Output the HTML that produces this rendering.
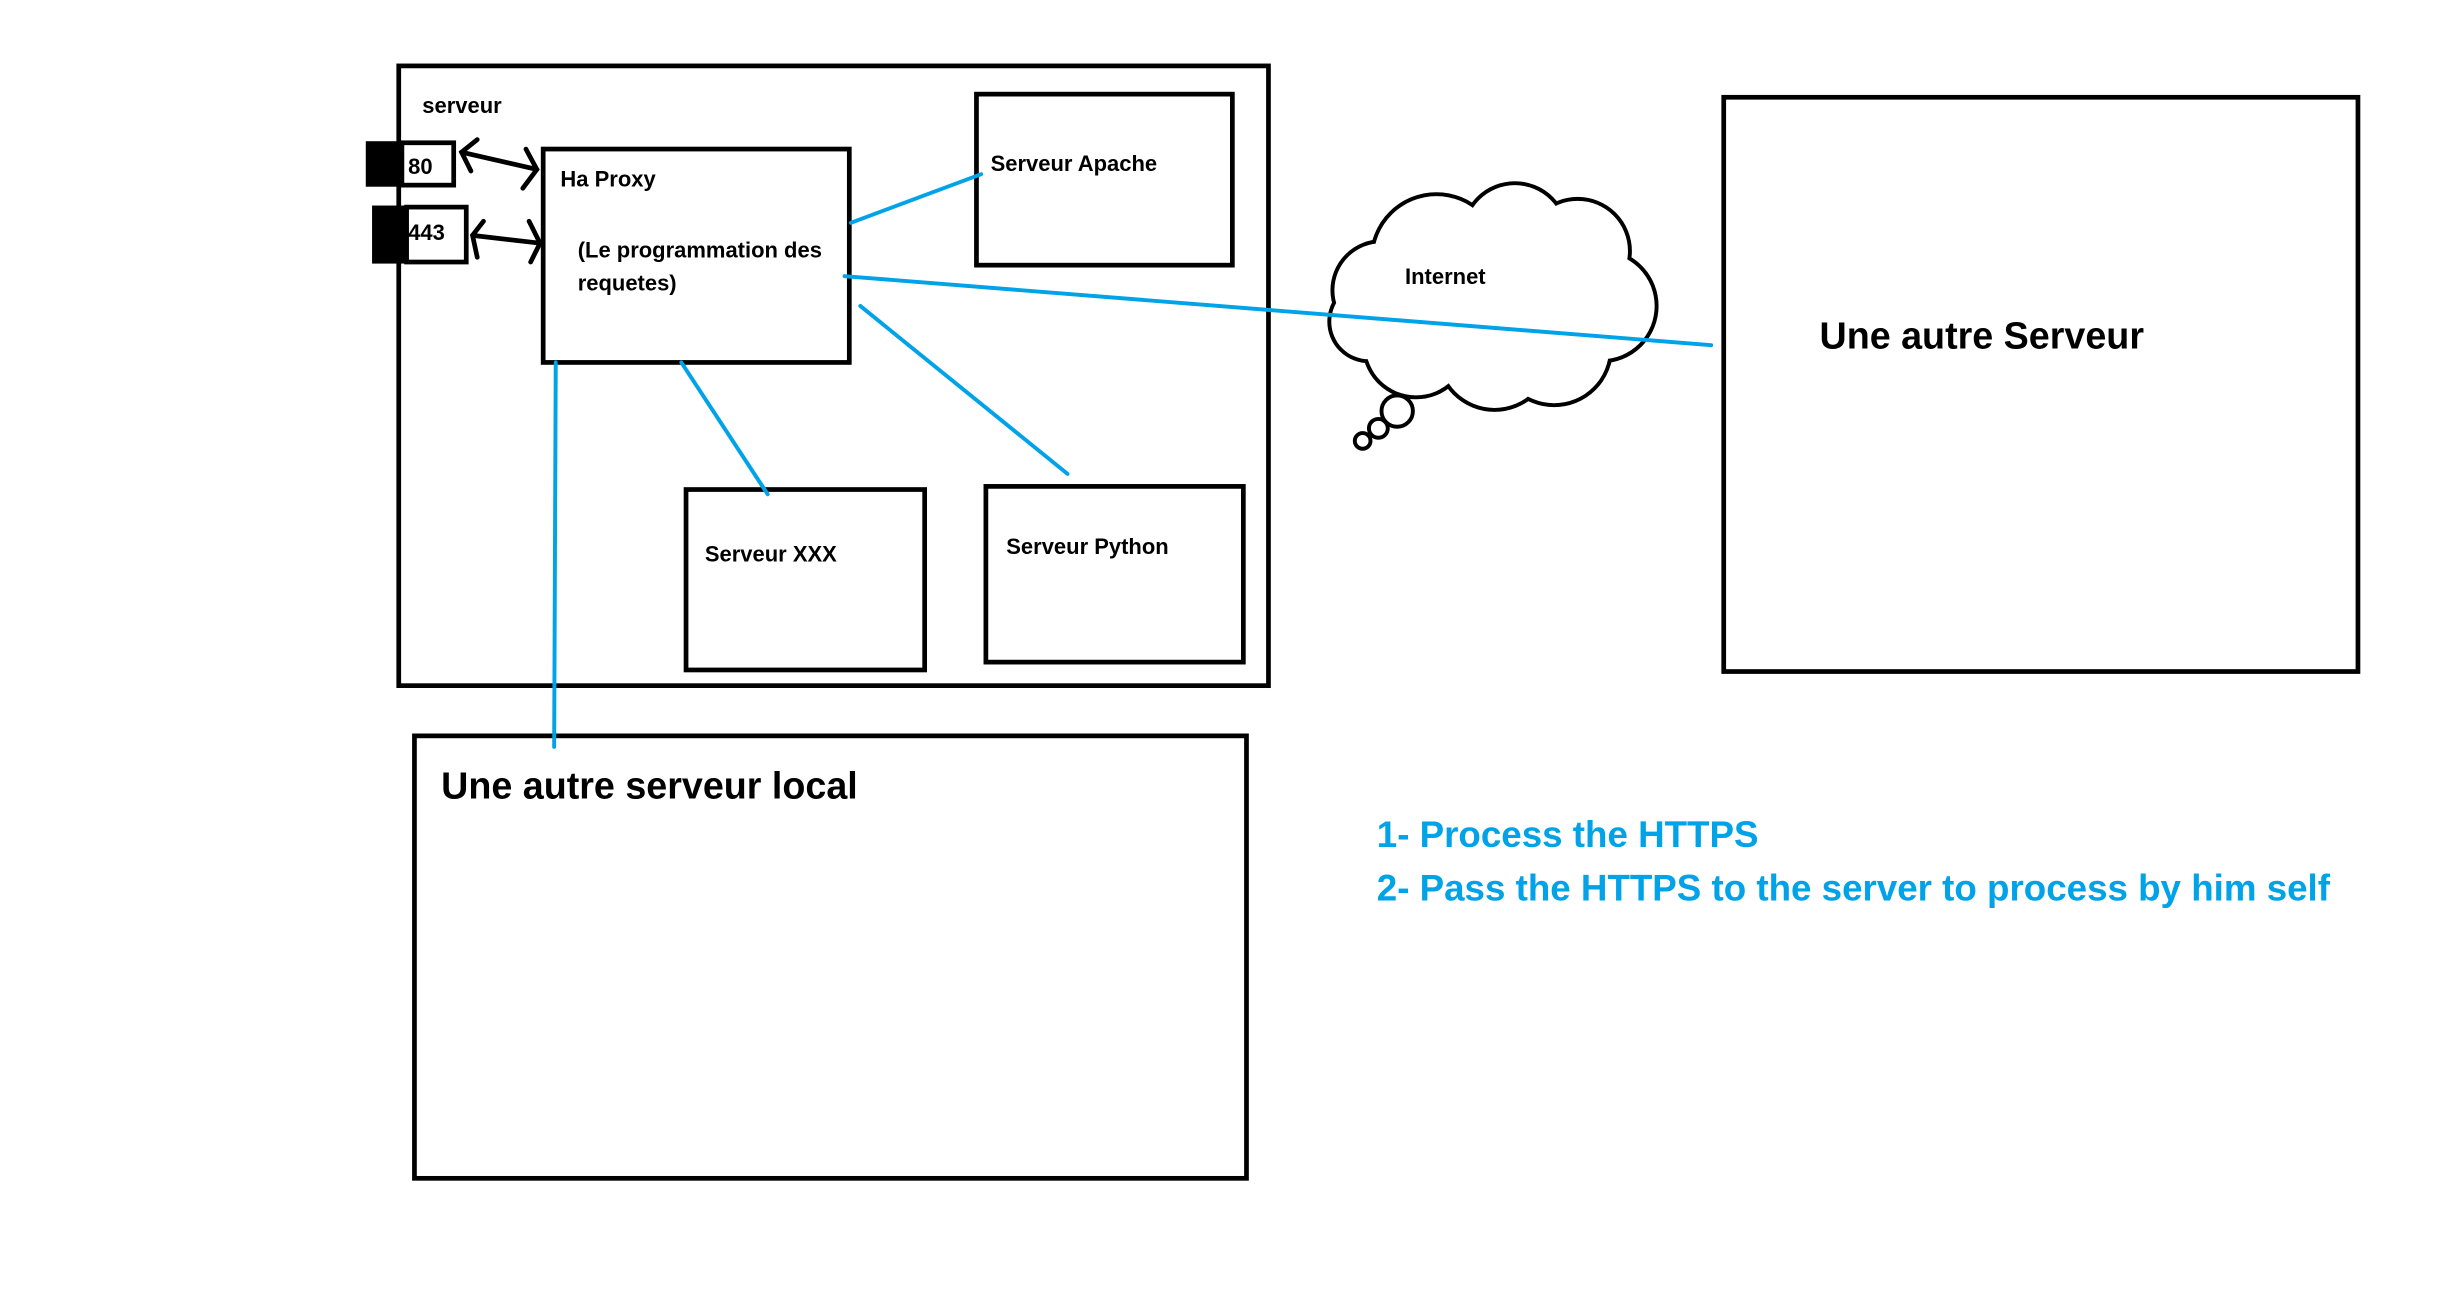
<!DOCTYPE html>
<html><head><meta charset="utf-8"><style>
html,body{margin:0;padding:0;background:#fff;}
svg{display:block;}
text{font-family:"Liberation Sans",sans-serif;font-weight:bold;}
</style></head><body>
<svg width="2460" height="1296" viewBox="0 0 1567 826" preserveAspectRatio="none" xmlns="http://www.w3.org/2000/svg">
<rect x="0" y="0" width="1567" height="826" fill="#fff"/>
<g fill="none" stroke="#000" stroke-width="3">
<rect x="254" y="42" width="554" height="395"/>
<rect x="346" y="95" width="195" height="136"/>
<rect x="622" y="60" width="163" height="109"/>
<rect x="437" y="312" width="152" height="115"/>
<rect x="628" y="310" width="164" height="112"/>
<rect x="264" y="469" width="530" height="282"/>
<rect x="1098" y="62" width="404" height="366"/>
<rect x="256" y="91" width="33" height="27"/>
<rect x="259" y="132" width="38" height="35"/>
</g>
<rect x="233" y="90" width="22" height="29" fill="#000"/>
<rect x="237" y="131" width="21" height="37" fill="#000"/>
<g stroke="#000" stroke-width="3" fill="none" stroke-linecap="round">
<line x1="294" y1="97" x2="342" y2="108"/>
<polyline points="304,89 294,97 300,109"/>
<polyline points="335,95 342,108 333,120"/>
<line x1="301" y1="150" x2="344" y2="155"/>
<polyline points="308,141 301,150 304,164"/>
<polyline points="337,141 344,155 338,167"/>
</g>
<g stroke="#000" stroke-width="5">
<circle cx="880" cy="185" r="30"/><circle cx="915" cy="165" r="40"/><circle cx="965" cy="150" r="32"/>
<circle cx="1005" cy="160" r="32"/><circle cx="1020" cy="195" r="34"/><circle cx="990" cy="222" r="35"/>
<circle cx="952" cy="225" r="35"/><circle cx="902" cy="220" r="32"/><circle cx="872" cy="205" r="24"/>
</g>
<g fill="#fff">
<circle cx="880" cy="185" r="30"/><circle cx="915" cy="165" r="40"/><circle cx="965" cy="150" r="32"/>
<circle cx="1005" cy="160" r="32"/><circle cx="1020" cy="195" r="34"/><circle cx="990" cy="222" r="35"/>
<circle cx="952" cy="225" r="35"/><circle cx="902" cy="220" r="32"/><circle cx="872" cy="205" r="24"/>
<circle cx="950" cy="190" r="50"/>
</g>
<g fill="#fff" stroke="#000" stroke-width="2.5">
<circle cx="890" cy="262" r="10"/><circle cx="878" cy="273" r="6"/><circle cx="868" cy="281" r="5"/>
</g>
<g stroke="#00a2e8" stroke-width="2.5" stroke-linecap="round">
<line x1="542" y1="142" x2="625" y2="111"/>
<line x1="538" y1="176" x2="1090" y2="220"/>
<line x1="548" y1="195" x2="680" y2="302"/>
<line x1="434" y1="231" x2="489" y2="315"/>
<line x1="354" y1="231" x2="353" y2="476"/>
</g>
<g fill="#000" font-size="14">
<text x="269" y="72">serveur</text>
<text x="260" y="111">80</text>
<text x="260" y="153">443</text>
<text x="357" y="119">Ha Proxy</text>
<text x="368" y="164">(Le programmation des</text>
<text x="368" y="185">requetes)</text>
<text x="631" y="109">Serveur Apache</text>
<text x="449" y="358">Serveur XXX</text>
<text x="641" y="353">Serveur Python</text>
<text x="895" y="181">Internet</text>
<text x="1159" y="222" font-size="24">Une autre Serveur</text>
<text x="281" y="509" font-size="24">Une autre serveur local</text>
</g>
<g fill="#00a2e8" font-size="23.4">
<text x="877" y="540">1- Process the HTTPS</text>
<text x="877" y="574">2- Pass the HTTPS to the server to process by him self</text>
</g>
</svg>
</body></html>
